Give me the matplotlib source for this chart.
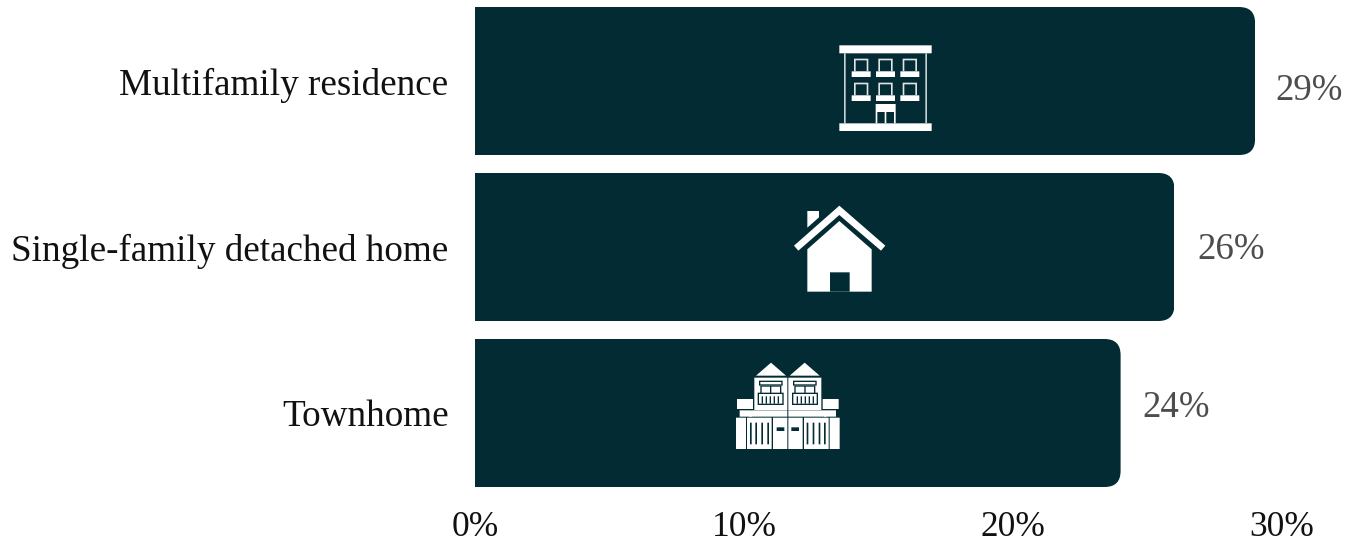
import matplotlib
matplotlib.use("Agg")
import matplotlib.pyplot as plt
from matplotlib.patches import Polygon, Rectangle
from matplotlib.path import Path
from matplotlib.transforms import Affine2D

# Survey shares by home type
categories = ["Multifamily residence", "Single-family detached home", "Townhome"]
shares = [29, 26, 24]
tick_values = [0, 10, 20, 30]
tick_labels = ["0%", "10%", "20%", "30%"]

W, H = 1359, 542
DARK = "#032b33"
FONT = "Liberation Serif"

fig = plt.figure(figsize=(W / 100, H / 100), dpi=100, facecolor="white")
ax = fig.add_axes([475 / W, (H - 496) / H, 807 / W, 496 / H])
ax.set_xlim(0, 30)
ax.set_ylim(2.5, -0.488)

bars = ax.barh(range(len(categories)), shares, height=148 / 166, color=DARK, linewidth=0)


def rounded_right(x1, y0, y1, rx, ry):
    """Outline of a bar with square left corners and rounded right corners."""
    verts = [(0, y0), (x1 - rx, y0), (x1, y0), (x1, y0 + ry), (x1, y1 - ry),
             (x1, y1), (x1 - rx, y1), (0, y1), (0, y0)]
    codes = [Path.MOVETO, Path.LINETO, Path.CURVE3, Path.CURVE3, Path.LINETO,
             Path.CURVE3, Path.CURVE3, Path.LINETO, Path.CLOSEPOLY]
    return Path(verts, codes)


for bar in bars:
    outline = rounded_right(bar.get_width(), bar.get_y(), bar.get_y() + bar.get_height(),
                            16 * 30 / 807, 16 / 166)
    bar.set_clip_path(outline, ax.transData)

for spine in ax.spines.values():
    spine.set_visible(False)
ax.tick_params(axis="both", length=0)
ax.set_yticks(range(len(categories)))
ax.set_yticklabels(categories, fontsize=26.7, family=FONT, color="#111111")
ax.tick_params(axis="y", pad=19)
ax.set_xticks(tick_values)
ax.set_xticklabels(tick_labels, fontsize=25.5, family=FONT, color="#111111")
ax.tick_params(axis="x", pad=11)

# Value labels sit at their own heights beside each bar (offsets in pixels)
label_dx = [20, 23, 22]
label_dy = [-10, -3, 5]
for i, v in enumerate(shares):
    ax.annotate(f"{v}%", (v, i), xytext=(label_dx[i], label_dy[i]), textcoords="offset pixels",
                ha="left", va="center", fontsize=26.6, family=FONT, color="#4d4d4d")

# Icons are placed in figure pixels, measured from the top-left corner
pixels = Affine2D().scale(1, -1).translate(0, H)


def icon_space(ox, oy, s=1 / 3):
    return Affine2D().scale(s).translate(ox, oy) + pixels


def rect(tf, x0, y0, x1, y1, color="white", z=3):
    fig.add_artist(Rectangle((x0, y0), x1 - x0, y1 - y0, transform=tf, snap=False,
                             facecolor=color, edgecolor="none", zorder=z))


def poly(tf, pts, color="white", z=3):
    fig.add_artist(Polygon(pts, closed=True, transform=tf, snap=False, facecolor=color,
                           edgecolor="none", zorder=z))


# Apartment building
tf = icon_space(820, 30)
rect(tf, 58, 46, 335, 70)
rect(tf, 58, 280, 335, 303)
rect(tf, 72, 70, 77, 280, "#c8d2d4")
rect(tf, 316, 70, 321, 280, "#c8d2d4")
for row in range(2):
    for col in range(3):
        dx, dy = 73 * col, 72 * row
        rect(tf, 102 + dx, 86 + dy, 145 + dx, 124 + dy, "#dfe5e6")
        rect(tf, 107 + dx, 91 + dy, 140 + dx, 124 + dy, DARK, 4)
        rect(tf, 95 + dx, 124 + dy, 152 + dx, 141 + dy, "white", 5)
rect(tf, 167, 222, 227, 246)
for x in (167, 194, 222):
    rect(tf, x, 246, x + 5, 280)

# Detached house
tf = icon_space(780, 195)
poly(tf, [(82, 48), (117, 48), (117, 67), (82, 98)])
poly(tf, [(178, 32), (316, 152), (303, 167), (178, 60), (55, 167), (42, 152)])
poly(tf, [(178, 78), (275, 163), (275, 290), (82, 290), (82, 163)])
rect(tf, 150, 232, 209, 290, DARK, 4)

# Pair of townhomes, right half mirrors the left around the party wall
tf = icon_space(725, 355)


def mirrored(x):
    return 377 - x


for m in (lambda x: x, mirrored):
    def box(x0, y0, x1, y1, color="white", z=3):
        a, b = sorted((m(x0), m(x1)))
        rect(tf, a, y0, b, y1, color, z)

    poly(tf, [(m(138), 23), (m(93), 62), (m(183), 62)])
    box(88, 68, 187, 165)
    box(102, 77, 173, 92, DARK, 4)
    box(106, 81, 169, 88, "white", 5)
    box(106, 92, 169, 114, DARK, 4)
    box(110, 95, 135, 113, "white", 5)
    box(139, 95, 165, 113, "white", 5)
    box(98, 113, 176, 150, DARK, 4)
    box(102, 117, 172, 146, "white", 5)
    for x in (110, 122, 134, 146, 158):
        box(x, 124, x + 4, 146, DARK, 6)
    box(36, 132, 84, 162)
    box(44, 166, 80, 185)
    poly(tf, [(m(72), 185), (m(80), 166), (m(187), 166), (m(187), 185)])
    box(33, 188, 63, 282)
    box(66, 188, 140, 282)
    for x in (75, 91, 109, 127):
        box(x, 203, x + 5, 268, DARK, 4)
    box(144, 188, 187, 282)
    box(155, 217, 178, 228, DARK, 4)

fig.savefig("out.png", dpi=100, facecolor="white")
